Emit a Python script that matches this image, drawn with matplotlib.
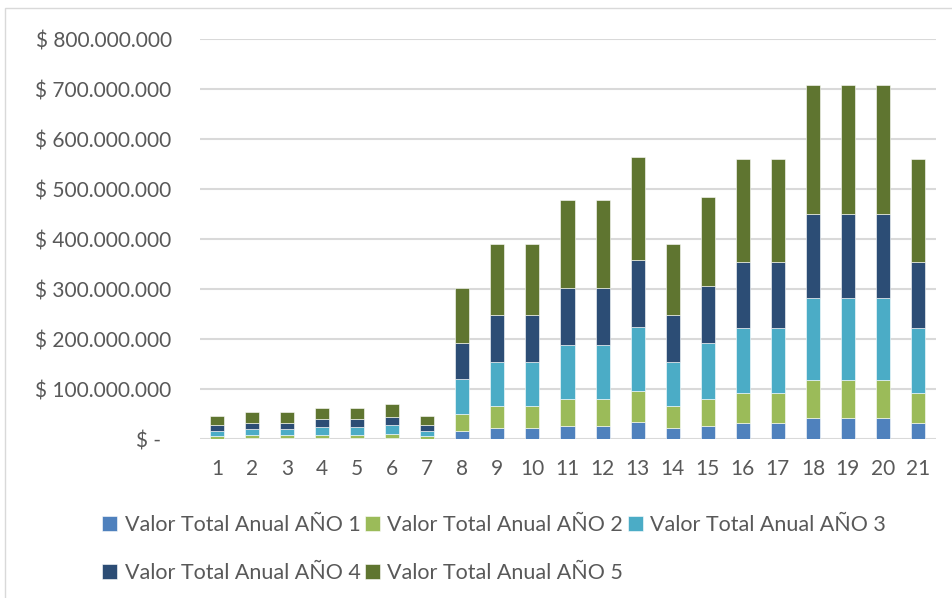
import matplotlib
matplotlib.use("Agg")
import matplotlib.pyplot as plt
import numpy as np
from matplotlib.patches import Rectangle
from matplotlib.ticker import FuncFormatter


periodos = [str(i) for i in range(1, 22)]

# valores en millones de pesos por año del proyecto
anio_1 = [1.5, 2.7, 2.7, 2.7, 2.7, 3.3, 1.5, 17.3, 23.3, 23.3, 27.3, 27.3, 34.0, 23.3,
          27.3, 33.3, 33.3, 43.3, 43.3, 43.3, 33.3]
anio_2 = [5.2, 5.3, 5.3, 6.6, 6.6, 7.4, 5.2, 33.4, 42.7, 42.7, 53.4, 53.4, 62.0, 42.7,
          52.7, 60.0, 60.0, 75.4, 75.4, 75.4, 60.0]
anio_3 = [10.0, 12.0, 12.0, 14.7, 14.7, 17.3, 10.0, 69.3, 89.3, 89.3, 108.6, 108.6, 128.7, 89.3,
          112.7, 129.4, 129.4, 163.3, 163.3, 163.3, 129.4]
anio_4 = [11.3, 13.3, 13.3, 16.0, 16.0, 17.3, 11.3, 72.0, 92.7, 92.7, 114.0, 114.0, 134.0, 92.7,
          114.6, 132.6, 132.6, 168.0, 168.0, 168.0, 132.6]
anio_5 = [18.7, 21.4, 21.4, 23.3, 23.3, 26.0, 18.7, 111.0, 142.7, 142.7, 174.7, 174.7, 206.0, 142.7,
          176.7, 204.7, 204.7, 259.3, 259.3, 259.3, 204.7]

series = [
    ("Valor Total Anual AÑO 1", anio_1, "#4F81BD"),
    ("Valor Total Anual AÑO 2", anio_2, "#9BBB59"),
    ("Valor Total Anual AÑO 3", anio_3, "#4BACC6"),
    ("Valor Total Anual AÑO 4", anio_4, "#2C4D75"),
    ("Valor Total Anual AÑO 5", anio_5, "#5F7530"),
]

plt.rcParams["font.family"] = ["Lato", "DejaVu Sans"]
TEXT = "#595959"

fig = plt.figure(figsize=(9.52, 5.98), dpi=100)
fig.patches.append(Rectangle((5 / 952, -0.1), 1.2, 1 - 8 / 598 + 0.1, transform=fig.transFigure,
                             fill=False, edgecolor="#D9D9D9", linewidth=1.0))
ax = fig.add_axes([199.5 / 952, 158.7 / 598, 736 / 952, 400 / 598])

x = np.arange(1, 22)
bottom = np.zeros(len(x))
handles = []
for nombre, valores, color in series:
    v = np.array(valores) * 1e6
    b = ax.bar(x, v, width=0.4, bottom=bottom, color=color, edgecolor="white",
               linewidth=0.4, label=nombre, zorder=3)
    handles.append(b)
    bottom += v

ax.set_xlim(0.5, 21.5)
ax.set_ylim(0, 800e6)
ax.set_yticks(np.arange(0, 800e6 + 1, 100e6))


def pesos(v, pos):
    if v == 0:
        return "$ -  "
    return "$ " + f"{int(v):,}".replace(",", ".")


ax.yaxis.set_major_formatter(FuncFormatter(pesos))
ax.set_xticks(x)
ax.set_xticklabels(periodos)
ax.grid(axis="y", color="#D9D9D9", linewidth=1.5, zorder=0)
for s in ax.spines.values():
    s.set_visible(False)
ax.tick_params(axis="both", length=0, labelcolor=TEXT, labelsize=15)
ax.tick_params(axis="y", pad=20)
ax.tick_params(axis="x", pad=14)

# orden para que la leyenda se lea por filas
orden = [0, 3, 1, 4, 2]
fig.legend([handles[i] for i in orden], [series[i][0] for i in orden],
           loc="upper left", bbox_to_anchor=(83 / 952, 1 - 496 / 598), ncol=3,
           frameon=False, fontsize=15.5, labelcolor=TEXT, handlelength=0.7,
           handleheight=0.7, handletextpad=0.33, columnspacing=0.22, labelspacing=1.3)

fig.savefig("out.png", dpi=100)
